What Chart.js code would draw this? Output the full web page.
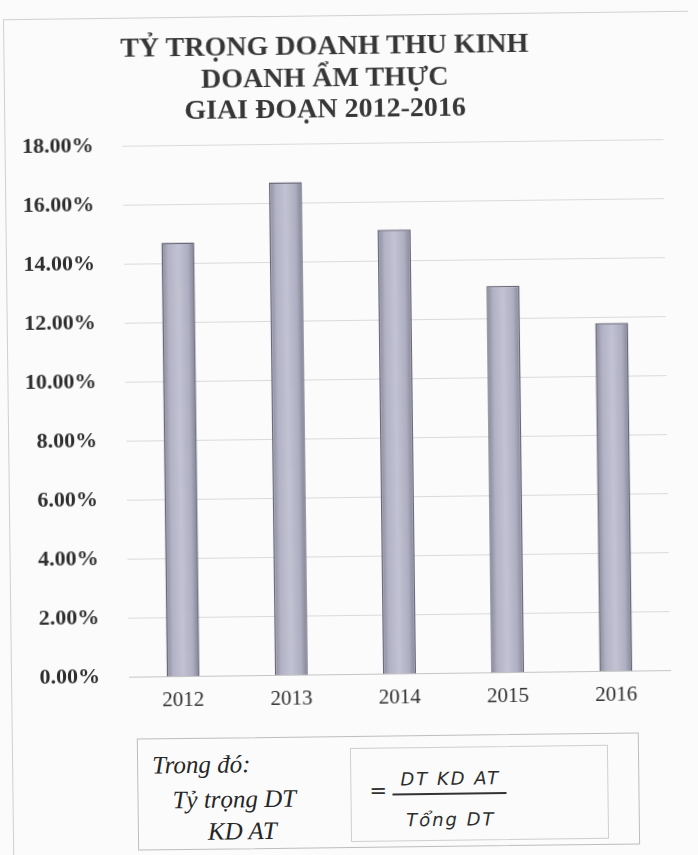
<!DOCTYPE html>
<html>
<head>
<meta charset="utf-8">
<script src="https://cdn.jsdelivr.net/npm/chart.js@4.4.1/dist/chart.umd.min.js"></script>
<style>
  html, body { margin:0; padding:0; background:#fbfbfb; overflow:hidden; }
  #wrap { position:relative; width:698px; height:855px; background:#fbfbfb; transform:rotate(-0.7deg); transform-origin:349px 427px; }
  #frame { position:absolute; left:8px; top:15px; width:684px; height:850px; border:1px solid #d0d0d0; border-bottom:none; border-right:none; }
  #title { position:absolute; left:0; top:29px; width:658px; text-align:center; font-family:"Liberation Serif", serif; font-weight:bold; font-size:28px; line-height:31.5px; color:#363636; }
  #chartBox { position:absolute; left:0; top:0; width:698px; height:725px; }
  #formula { position:absolute; left:133px; top:736px; width:500px; height:110px; border:1px solid #bdbdbd; font-family:"Liberation Serif", serif; font-style:italic; color:#262626; }
  #formula .t { position:absolute; font-size:25px; line-height:32px; white-space:nowrap; }
  #inner { position:absolute; left:212px; top:11px; width:256px; height:92px; border:1px solid #cfcfcf; }
  #eq { position:absolute; left:18px; top:30px; font-family:"DejaVu Sans", sans-serif; font-size:21px; color:#333; }
  #num, #den { position:absolute; left:38px; width:122px; text-align:center; font-family:"DejaVu Sans", sans-serif; font-size:18px; font-style:italic; color:#2e2e2e; letter-spacing:2px; white-space:nowrap; }
  #num { top:20px; }
  #den { top:61px; }
  #bar { position:absolute; left:41px; top:45px; width:114px; height:0; border-top:2px solid #333; }
</style>
</head>
<body>
<div id="wrap">
  <div id="frame"></div>
  <div id="chartBox"><canvas id="c"></canvas></div>
  <div id="title"></div>
  <div id="formula">
    <span class="t" style="left:14px; top:10px;">Trong đó:</span>
    <span class="t" style="left:34px; top:45px;">Tỷ trọng DT</span>
    <span class="t" style="left:69px; top:77px;">KD AT</span>
    <div id="inner">
      <span id="eq">=</span>
      <div id="num">DT KD AT</div>
      <div id="bar"></div>
      <div id="den">Tổng DT</div>
    </div>
  </div>
</div>
<script>
const titleLines = ['TỶ TRỌNG DOANH THU KINH', 'DOANH ẨM THỰC', 'GIAI ĐOẠN 2012-2016'];
const years = ['2012', '2013', '2014', '2015', '2016'];
const shareValues = [14.7, 16.7, 15.05, 13.1, 11.8];
const yMin = 0, yMax = 18, yStep = 2;

document.getElementById('title').innerHTML = titleLines.map(s => '<div>' + s + '</div>').join('');

function barGradient(context) {
  const chart = context.chart;
  const xs = chart.scales.x;
  if (!xs || context.dataIndex === undefined) return '#b4b4c8';
  const cx = xs.getPixelForValue(context.dataIndex);
  const w = (xs.width / years.length) * 0.305;
  if (!isFinite(cx) || !isFinite(w) || w <= 0) return '#b4b4c8';
  const g = chart.ctx.createLinearGradient(cx - w / 2, 0, cx + w / 2, 0);
  g.addColorStop(0, '#88889a');
  g.addColorStop(0.2, '#b2b2c5');
  g.addColorStop(0.5, '#c2c2d3');
  g.addColorStop(0.8, '#aeaec1');
  g.addColorStop(1, '#818195');
  return g;
}

new Chart(document.getElementById('c'), {
  type: 'bar',
  data: {
    labels: years,
    datasets: [{
      data: shareValues,
      backgroundColor: barGradient,
      borderColor: '#68687a',
      borderWidth: 1.5,
      barPercentage: 0.305,
      categoryPercentage: 1.0
    }]
  },
  options: {
    responsive: true,
    maintainAspectRatio: false,
    animation: false,
    layout: { padding: { left: 0, right: 31, top: 143, bottom: 3 } },
    plugins: {
      legend: { display: false },
      tooltip: { enabled: false },
      title: { display: false }
    },
    scales: {
      x: {
        grid: { display: false, drawTicks: false },
        border: { display: true, color: '#c4c4c4', width: 1 },
        ticks: {
          color: '#2e2e2e',
          padding: 11,
          font: { family: '"Liberation Serif", serif', size: 21 }
        }
      },
      y: {
        min: yMin, max: yMax,
        afterFit: s => { s.width = 126; },
        grid: { color: '#dadada', lineWidth: 1, drawTicks: false },
        border: { display: false },
        ticks: {
          stepSize: yStep,
          color: '#2e2e2e',
          padding: 29,
          font: { family: '"Liberation Serif", serif', size: 22, weight: 'bold' },
          callback: v => v.toFixed(2) + '%'
        }
      }
    }
  }
});
</script>
</body>
</html>
